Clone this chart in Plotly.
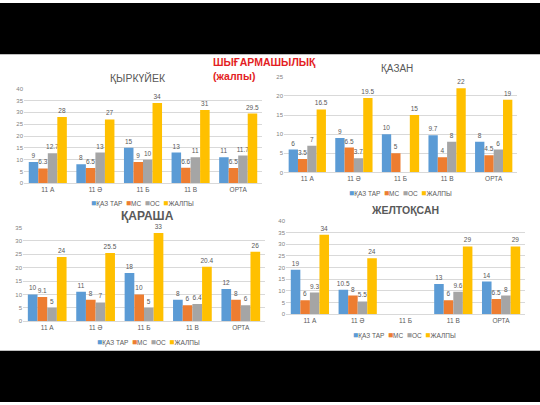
import plotly.graph_objects as go

categories = ["11 А", "11 Ә", "11 Б", "11 В", "ОРТА"]
series_names = ["ҚАЗ ТАР", "МС", "ОС", "ЖАЛПЫ"]
colors = ["#5B9BD5", "#ED7D31", "#A5A5A5", "#FFC000"]

# ҚЫРКҮЙЕК
sep_qaz = [9, 8, 15, 13, 11]
sep_ms = [6.3, 6.5, 9, 6.6, 6.5]
sep_os = [12.7, 13, 10, 11, 11.7]
sep_total = [28, 27, 34, 31, 29.5]

# ҚАЗАН
oct_qaz = [6, 9, 10, 9.7, 8]
oct_ms = [3.5, 6.5, 5, 4, 4.5]
oct_os = [7, 3.7, None, 8, 6]
oct_total = [16.5, 19.5, 15, 22, 19]

# ҚАРАША
nov_qaz = [10, 11, 18, 8, 12]
nov_ms = [9.1, 8, 10, 6, 8]
nov_os = [5, 7, 5, 6.4, 6]
nov_total = [24, 25.5, 33, 20.4, 26]

# ЖЕЛТОҚСАН
dec_qaz = [19, 10.5, None, 13, 14]
dec_ms = [6, 8, None, 6, 6.5]
dec_os = [9.3, 5.5, None, 9.6, 8]
dec_total = [34, 24, None, 29, 29]

charts = [
    dict(title="ҚЫРКҮЙЕК", data=[sep_qaz, sep_ms, sep_os, sep_total], ymax=40,
         px=(24, 262), py=(87, 183), tpos=(138, 76), tsize=10.5, tbold=False, leg=(142, 203)),
    dict(title="ҚАЗАН", data=[oct_qaz, oct_ms, oct_os, oct_total], ymax=25,
         px=(284, 517), py=(75, 172), tpos=(397, 66), tsize=10, tbold=False, leg=(400, 193)),
    dict(title="ҚАРАША", data=[nov_qaz, nov_ms, nov_os, nov_total], ymax=35,
         px=(23, 265), py=(228, 323), tpos=(147, 216), tsize=12, tbold=True, leg=(148, 344)),
    dict(title="ЖЕЛТОҚСАН", data=[dec_qaz, dec_ms, dec_os, dec_total], ymax=40,
         px=(286, 525), py=(221, 316), tpos=(405, 210), tsize=10.5, tbold=True, leg=(404, 337)),
]

W, H = 540, 405
FONT = "Liberation Sans"
fig = go.Figure()
annotations = []

for i, ch in enumerate(charts):
    n = "" if i == 0 else str(i + 1)
    for s, vals in enumerate(ch["data"]):
        fig.add_trace(go.Bar(
            x=categories, y=vals, name=series_names[s],
            marker=dict(color=colors[s], line=dict(width=0)),
            text=[("" if v is None else f"{v:g}") for v in vals],
            textposition="outside", constraintext="none", cliponaxis=False,
            textfont=dict(size=6.5, color="#595959", family=FONT),
            xaxis="x" + n, yaxis="y" + n, showlegend=False,
        ))
    x0, x1 = ch["px"]
    ytop, ybot = ch["py"]
    fig.update_layout(**{
        "xaxis" + n: dict(domain=[x0 / W, x1 / W], anchor="y" + n,
                          showline=True, linecolor="#D9D9D9", linewidth=1,
                          ticks="", tickfont=dict(size=6.5, color="#595959", family=FONT),
                          showgrid=False, fixedrange=True),
        "yaxis" + n: dict(domain=[1 - ybot / H, 1 - ytop / H], anchor="x" + n,
                          range=[0, ch["ymax"]], dtick=5, showgrid=True,
                          gridcolor="#D9D9D9", gridwidth=1, zeroline=False,
                          showline=False, ticks="",
                          tickfont=dict(size=6, color="#7F7F7F", family=FONT),
                          fixedrange=True),
    })
    t = ch["title"]
    if ch["tbold"]:
        t = "<b>" + t + "</b>"
    annotations.append(dict(text=t, x=ch["tpos"][0] / W, y=1 - ch["tpos"][1] / H,
                            xref="paper", yref="paper", showarrow=False,
                            xanchor="center", yanchor="middle",
                            font=dict(size=ch["tsize"], color="#595959", family=FONT)))
    leg_text = "  ".join(
        f"<span style='color:{colors[s]};font-size:8.5px'>■</span>{series_names[s]}"
        for s in range(4))
    annotations.append(dict(text=leg_text, x=ch["leg"][0] / W, y=1 - ch["leg"][1] / H,
                            xref="paper", yref="paper", showarrow=False,
                            xanchor="center", yanchor="middle",
                            font=dict(size=6.5, color="#595959", family=FONT)))

annotations.append(dict(text="<b>ШЫҒАРМАШЫЛЫҚ<br>(жалпы)</b>", x=211 / W, y=1 - 52 / H,
                        xref="paper", yref="paper", showarrow=False, align="left",
                        xanchor="left", yanchor="top",
                        font=dict(size=10.5, color="#E31E24", family=FONT)))

shapes = [
    dict(type="rect", xref="paper", yref="paper", x0=0, x1=1, y0=1 - 52 / H, y1=1,
         fillcolor="black", line=dict(width=0), layer="below"),
    dict(type="rect", xref="paper", yref="paper", x0=0, x1=1, y0=0, y1=1 - 353 / H,
         fillcolor="black", line=dict(width=0), layer="below"),
]

fig.update_layout(
    width=W, height=H, margin=dict(l=0, r=0, t=0, b=0),
    paper_bgcolor="white", plot_bgcolor="rgba(0,0,0,0)",
    barmode="group", bargap=0.2, bargroupgap=0,
    showlegend=False, annotations=annotations, shapes=shapes,
    font=dict(family=FONT), hovermode=False,
)

fig.write_html("out.html", config={"displayModeBar": False, "staticPlot": True},
               post_script="document.body.style.margin='0';document.body.style.overflow='hidden';")
